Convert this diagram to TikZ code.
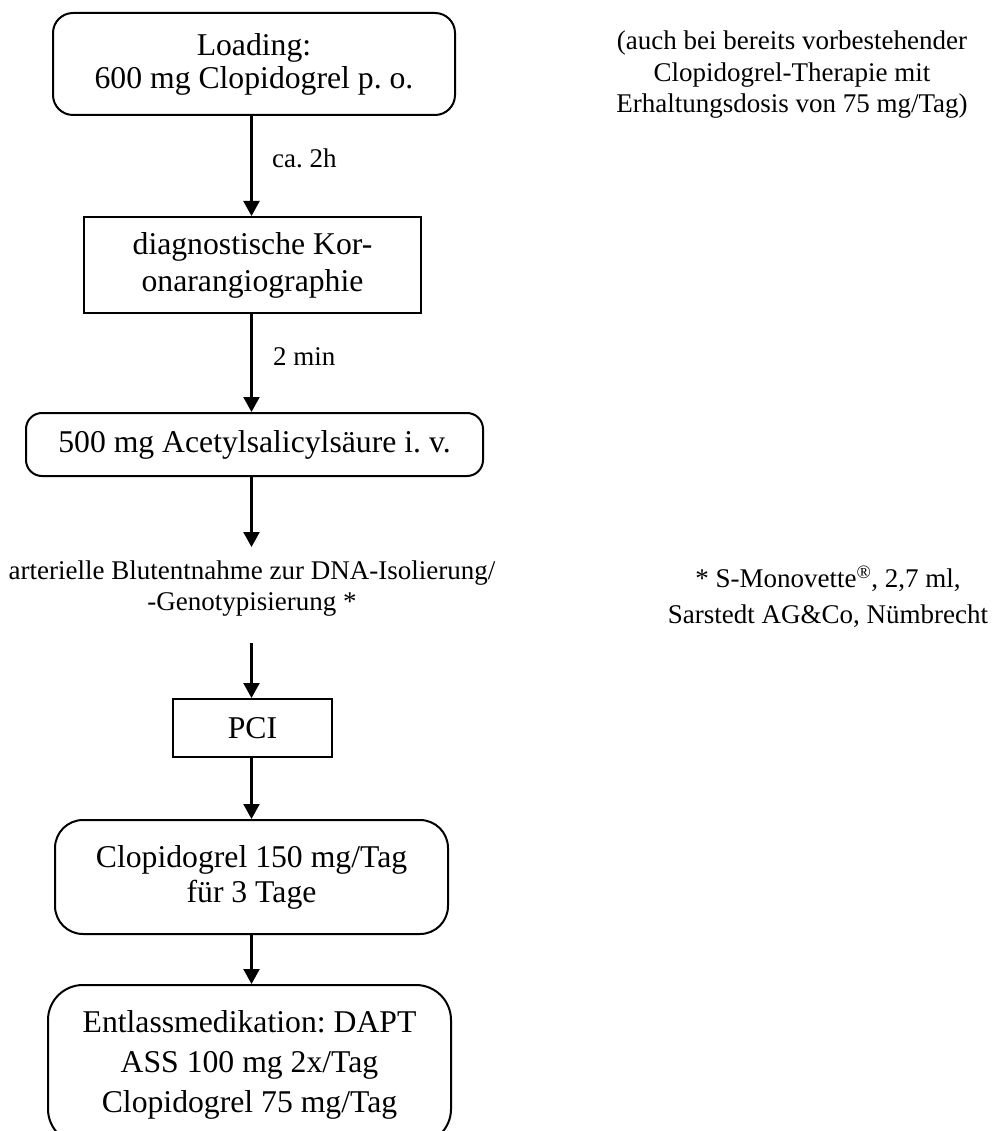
\documentclass[tikz,border=0pt]{standalone}
\usepackage{fontspec}
\setmainfont{Liberation Serif}
\usetikzlibrary{arrows.meta}
\frenchspacing

\tikzset{
  boxtext/.style={font=\fontsize{31.7}{#1}\selectfont, align=center, inner sep=0pt},
  smalltext/.style={font=\fontsize{27}{#1}\selectfont, align=center, inner sep=0pt},
  roundbox/.style={draw, line width=2pt, rounded corners=#1, inner sep=0pt},
  plainbox/.style={draw, line width=2pt, inner sep=0pt},
  flow/.style={line width=2.2pt, -{Triangle[width=16pt,length=15pt]}},
}

\begin{document}
\begin{tikzpicture}[x=1pt,y=-1pt]
  \useasboundingbox (0,0) rectangle (992,1131);
  \fill[white] (0,0) rectangle (992,1131);
  \clip (0,0) rectangle (992,1131);

  % column of the main flow
  \coordinate (ax) at (251.5,0);

  % boxes of the flow
  \node[roundbox=20pt, boxtext=33, minimum width=402pt, minimum height=102pt]
    (load) at (254,64) {Loading:\\600 mg Clopidogrel p. o.};
  \node[plainbox, boxtext=37, minimum width=337pt, minimum height=96pt]
    (kor) at (252.5,265) {diagnostische Kor-\\onarangiographie};
  \node[roundbox=16pt, boxtext=33, minimum width=457pt, minimum height=63pt]
    (ass) at (254.5,444.5) {500 mg Acetylsalicylsäure i. v.};
  \node[smalltext=31] (blood) at (252,589)
    {arterielle Blutentnahme zur DNA-Isolierung/\\-Genotypisierung *};
  \node[plainbox, boxtext=33, minimum width=159pt, minimum height=58pt]
    (pci) at (252.5,728) {PCI};
  \node[roundbox=28pt, boxtext=35, minimum width=393pt, minimum height=114pt]
    (clop) at (251.5,877) {Clopidogrel 150 mg/Tag\\für 3 Tage};
  \node[roundbox=35pt, boxtext=40, minimum width=403pt, minimum height=159pt]
    (dapt) at (249.5,1064.5) {Entlassmedikation: DAPT\\ASS 100 mg 2x/Tag\\Clopidogrel 75 mg/Tag};

  % side notes
  \node[smalltext=31.5] (note) at (792,75)
    {(auch bei bereits vorbestehender\\Clopidogrel-Therapie mit\\Erhaltungsdosis von 75 mg/Tag)};
  \node[smalltext=36] (tube) at (828,597)
    {* S-Monovette\textsuperscript{®}, 2,7 ml,\\Sarstedt AG\&Co, Nümbrecht};

  % time labels beside the arrows
  \node[smalltext=30, anchor=base west] (t1) at (272,168) {ca. 2h};
  \node[smalltext=30, anchor=base west] (t2) at (273,365) {2 min};

  % connectors
  \draw[flow] (load.south -| ax) -- (kor.north -| ax);
  \draw[flow] (kor.south -| ax) -- (ass.north -| ax);
  \draw[flow] (ass.south -| ax) -- ([yshift=14pt]blood.north -| ax);
  \draw[flow] ([yshift=-26pt]blood.south -| ax) -- (pci.north -| ax);
  \draw[flow] (pci.south -| ax) -- (clop.north -| ax);
  \draw[flow] (clop.south -| ax) -- (dapt.north -| ax);
\end{tikzpicture}
\end{document}
